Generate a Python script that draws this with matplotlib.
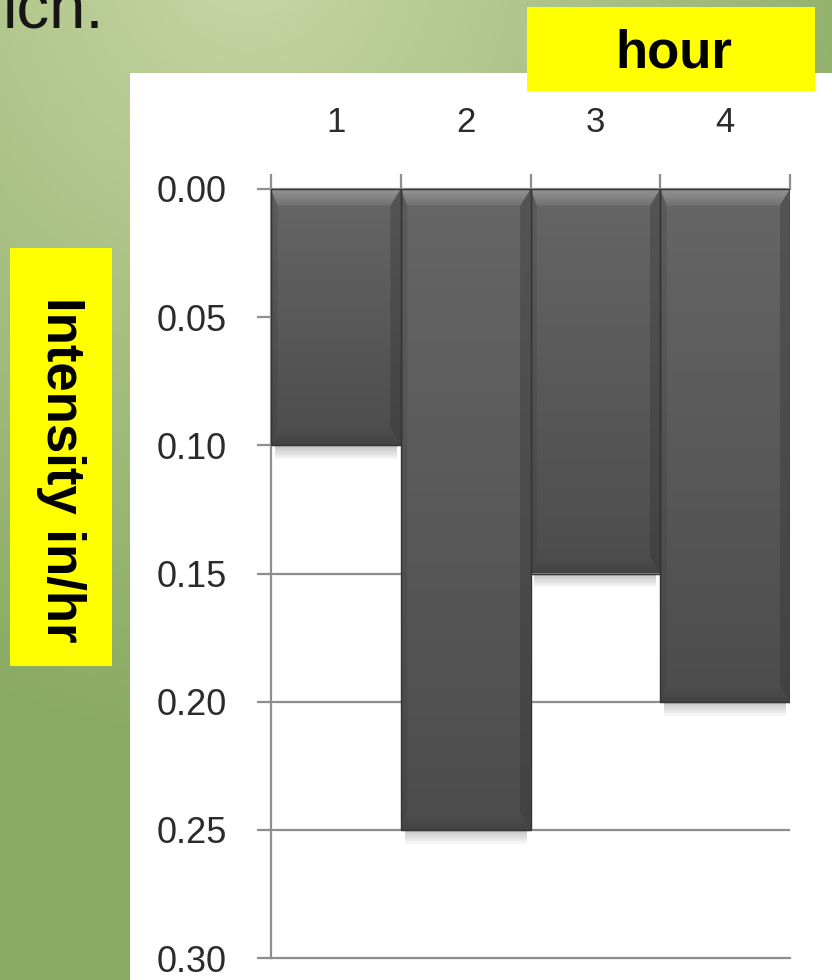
import numpy as np
import matplotlib
matplotlib.use("Agg")
import matplotlib.pyplot as plt
from matplotlib.patches import Rectangle, Polygon
from matplotlib.ticker import FixedLocator

# Rainfall intensity per hour (in/hr)
hours = [1, 2, 3, 4]
intensity = [0.10, 0.25, 0.15, 0.20]
y_ticks = [0.00, 0.05, 0.10, 0.15, 0.20, 0.25, 0.30]
y_tick_labels = ["0.00", "0.05", "0.10", "0.15", "0.20", "0.25", "0.30"]

W, H = 832, 980
fig = plt.figure(figsize=(W / 100, H / 100), dpi=100)

# Slide background: soft green gradient, plus the white chart panel
bg = fig.add_axes([0, 0, 1, 1])
bg.axis("off")
yy, xx = np.mgrid[0:H, 0:W]
d = np.hypot(xx - 250, (yy + 60) * 0.9)
t = np.clip(d / 720.0, 0, 1) ** 0.9
light = np.array([0.80, 0.85, 0.66])
dark = np.array([0.54, 0.67, 0.39])
img = light * (1 - t[..., None]) + dark * t[..., None]
bg.imshow(img, extent=[0, W, H, 0], aspect="auto", interpolation="bilinear")
bg.set_xlim(0, W)
bg.set_ylim(H, 0)
bg.add_patch(Rectangle((130, 73), W - 130, H - 73, facecolor="white", edgecolor="none"))

bg.text(3, 27, "ich.", fontsize=47, color="#151515", family="Liberation Sans",
        ha="left", va="baseline")

# Yellow caption boxes
bg.add_patch(Rectangle((527, 7), 288, 84, facecolor="#ffff00", edgecolor="none"))
bg.text(674, 68, "hour", fontsize=38, fontweight="bold", family="Liberation Sans",
        ha="center", va="baseline", color="black")
bg.add_patch(Rectangle((10, 248), 102, 418, facecolor="#ffff00", edgecolor="none"))
bg.text(61, 470, "Intensity in/hr", fontsize=38, fontweight="bold", family="Liberation Sans",
        ha="center", va="center", rotation=-90, color="black")

# Chart axes
ax = fig.add_axes([271 / W, 1 - 958 / H, (790 - 271) / W, (958 - 189) / H])
ax.set_facecolor("none")
ax.set_xlim(0.5, 4.5)
ax.set_ylim(0.30, 0.0)

grid_c = "#8e8e8e"
for s in ["right", "bottom"]:
    ax.spines[s].set_visible(False)
for s in ["left", "top"]:
    ax.spines[s].set_color(grid_c)
    ax.spines[s].set_linewidth(1.6)

ax.yaxis.set_major_locator(FixedLocator(y_ticks))
ax.set_yticklabels(y_tick_labels)
ax.grid(axis="y", color=grid_c, linewidth=1.6, zorder=1)
# keep the bottom gridline whole at the axes edge
ax.get_ygridlines()[-1].set_clip_on(False)
ax.tick_params(axis="y", length=10, width=1.6, color=grid_c, pad=22,
               labelsize=26, labelcolor="#2b2b2b")

ax.xaxis.tick_top()
ax.set_xticks(hours)
ax.set_xticklabels([str(h) for h in hours])
ax.set_xticks([h - 0.5 for h in hours] + [hours[-1] + 0.5], minor=True)
ax.tick_params(axis="x", which="major", length=0, pad=36, labelsize=25, labelcolor="#2b2b2b")
ax.tick_params(axis="x", which="minor", length=11, width=1.6, color=grid_c, direction="out")
for lab in ax.get_xticklabels() + ax.get_yticklabels():
    lab.set_family("Liberation Sans")


def fill_gradient(patch, c_top, c_bot, x0, x1, y0, y1, z):
    """Fill a patch with a vertical gray gradient from y0 (top) to y1 (bottom)."""
    n = 64
    v = np.linspace(c_top, c_bot, n)[:, None]
    arr = np.repeat(np.stack([v, v, v], axis=-1), 2, axis=1)
    patch.set_facecolor("none")
    patch.set_edgecolor("none")
    ax.add_patch(patch)
    im = ax.imshow(arr, extent=[x0, x1, y1, y0], aspect="auto", zorder=z,
                   interpolation="bilinear")
    im.set_clip_path(patch)


bar_w = 1.0
bx_l = 0.05    # left bevel width (x units)
bx_r = 0.08    # right bevel width (x units)
by = 0.0065    # top/bottom bevel height (in/hr units)

bars = ax.bar(hours, intensity, width=bar_w, color="none", edgecolor="none", zorder=3)

for h, val in zip(hours, intensity):
    x0, x1 = h - bar_w / 2, h + bar_w / 2
    # soft drop shadow under the bar
    for k in range(1, 7):
        ax.add_patch(Rectangle((x0 + 0.03, val), bar_w - 0.06, 0.0009 * k,
                               facecolor="black", alpha=0.04, edgecolor="none", zorder=2))
    # bar body
    body = Rectangle((x0, 0), bar_w, val)
    fill_gradient(body, 0.40, 0.30, x0, x1, 0, val, 3)
    # left / right bevels
    left = Polygon([(x0, 0), (x0 + bx_l, by), (x0 + bx_l, val - by), (x0, val)], closed=True)
    fill_gradient(left, 0.36, 0.28, x0, x0 + bx_l, 0, val, 4)
    right = Polygon([(x1, 0), (x1 - bx_r, by), (x1 - bx_r, val - by), (x1, val)], closed=True)
    fill_gradient(right, 0.33, 0.26, x1 - bx_r, x1, 0, val, 4)
    # top highlight bevel
    top = Polygon([(x0, 0), (x1, 0), (x1 - bx_r, by), (x0 + bx_l, by)], closed=True)
    fill_gradient(top, 0.58, 0.44, x0, x1, 0, by, 4)
    # bottom bevel
    bot = Polygon([(x0, val), (x1, val), (x1 - bx_r, val - by), (x0 + bx_l, val - by)], closed=True)
    fill_gradient(bot, 0.31, 0.26, x0, x1, val - by, val, 4)
    # outline
    ax.add_patch(Rectangle((x0, 0), bar_w, val, facecolor="none",
                           edgecolor="#333333", linewidth=1.0, zorder=5))

ax.set_xlim(0.5, 4.5)
ax.set_ylim(0.30, 0.0)

fig.savefig("out.png", dpi=100)
